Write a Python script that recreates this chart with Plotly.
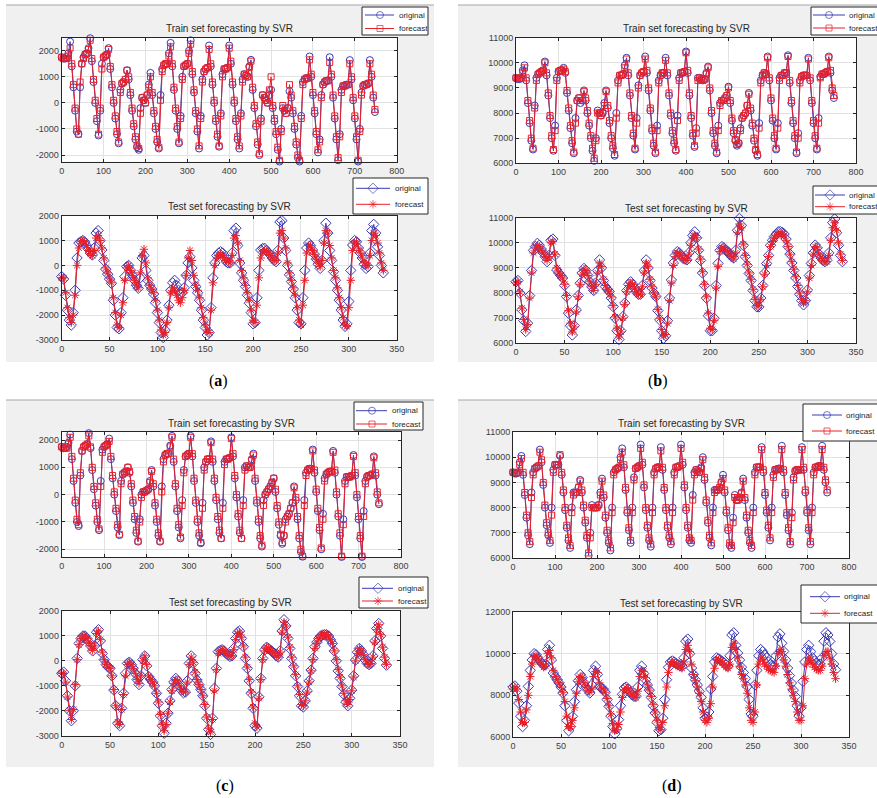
import plotly.graph_objects as go

W, H = 877, 798

# ---------------- data ----------------
# train series sampled every 4 steps (0..748), test series every 2 steps (0..336)
TRAIN_STEP = 4
TEST_STEP = 2

a_train_orig = [1750,1700,1700,1750,1900,2350,1400,600,-300,-1100,
                -1200,600,1500,1750,1850,1900,2100,2480,1600,800,
                0,-700,-1250,-300,1500,1750,1800,1850,2100,1300,
                600,0,-600,-1200,-1550,500,750,800,900,1250,
                900,300,-300,-900,-1400,-1700,-1800,-200,200,100,
                0,300,700,1150,300,-400,-1000,-1500,-1750,300,
                1300,1450,1500,1500,1900,2300,1400,500,-300,-1000,
                -1550,-500,1000,1400,1450,1500,2000,2400,1100,400,
                -400,-1100,-1750,-500,900,1200,1300,1350,2200,1400,
                700,0,-700,-1300,-1680,-400,1100,1300,1300,1350,
                2200,1500,700,0,-700,-1400,-1750,-400,900,1100,
                1050,1000,1400,1650,500,-200,-900,-1600,-2000,-600,
                300,200,100,0,300,500,-200,-700,-1200,-1800,
                -2250,-1000,-200,-300,-400,-200,450,200,-400,-1000,
                -1600,-2100,-2250,-500,800,900,950,950,1780,1000,
                300,-400,-1200,-1900,-1400,300,700,800,850,850,
                1750,1000,200,-600,-1400,-2200,-1200,500,650,650,
                700,700,1640,900,100,-600,-1400,-2250,-1000,400,
                650,700,700,750,1640,1000,200,-350]
a_train_fc = [1750,1700,1700,1700,1800,2100,1500,700,-200,-1000,
              -1200,800,1500,1700,1850,1900,2050,2400,1700,900,
              100,-600,-1200,-200,1300,1750,1800,1850,2050,1400,
              700,100,-500,-1100,-1500,400,750,800,900,1250,
              1000,400,-200,-800,-1300,-1650,-1750,-400,200,100,
              0,300,600,1000,400,-300,-900,-1400,-1700,100,
              1200,1450,1500,1500,1800,2150,1500,600,-200,-900,
              -1500,-600,900,1400,1450,1500,1900,2250,1200,500,
              -300,-1000,-1650,-600,800,1200,1300,1350,2050,1500,
              800,100,-600,-1200,-1650,-500,1000,1300,1300,1350,
              2100,1600,800,100,-600,-1300,-1650,-500,800,1100,
              1050,1000,1350,1600,600,-100,-800,-1500,-1950,-700,
              300,200,100,0,500,1000,-100,-600,-1100,-1700,
              -2200,-1100,-100,-300,-400,-200,700,300,-300,-900,
              -1500,-2000,-2200,-600,700,900,950,950,1650,1100,
              400,-300,-1100,-1800,-1500,200,700,800,850,850,
              1550,1100,300,-500,-1300,-2100,-1300,400,650,650,
              700,700,1500,1000,200,-500,-1300,-2200,-1100,300,
              650,700,700,750,1500,1100,300,-250]
a_test_orig = [-450,-550,-1200,-1800,-2200,-2400,-1900,-1000,300,900,
               950,1000,950,800,650,500,420,700,1300,1400,
               1000,620,200,-150,-350,-550,-720,-1400,-2000,-2500,
               -2550,-1900,-1300,-450,-50,0,-200,-400,-600,-800,
               -920,-500,300,400,-200,-600,-800,-950,-1150,-1500,
               -1900,-2300,-2700,-2900,-2600,-2200,-1600,-1000,-700,-600,
               -800,-1000,-1150,-1100,-900,-400,100,350,-100,-600,
               -850,-1100,-1400,-1800,-2200,-2500,-2800,-2700,-1700,-500,
               100,400,500,550,500,300,150,100,100,500,
               1400,1500,800,100,-300,-600,-850,-1200,-1520,-1900,
               -2350,-2300,-1300,-200,620,680,690,600,500,420,
               300,200,150,600,1750,1800,1100,600,0,-380,
               -650,-950,-1300,-1800,-2300,-2350,-1300,-200,700,900,
               800,620,450,250,50,-120,200,1000,1700,1300,
               600,200,-250,-600,-1000,-1400,-1800,-2200,-2450,-2350,
               -1450,-200,820,1000,950,700,500,300,50,-120,
               -50,500,1400,1650,1300,750,400,0,-300]
a_test_fc = [-500,-500,-1100,-1700,-2100,-2300,-2000,-1200,0,700,
             950,1000,950,800,600,450,400,600,1100,1200,
             1000,700,300,-100,-300,-500,-700,-1300,-1900,-2400,
             -2500,-2000,-1500,-600,-100,0,-200,-400,-600,-800,
             -900,-300,400,650,100,-500,-800,-950,-1100,-1400,
             -1800,-2200,-2600,-2800,-2700,-2300,-1700,-1100,-900,-1000,
             -1200,-1400,-1500,-1300,-1000,-400,300,600,200,-400,
             -800,-1000,-1300,-1700,-2100,-2400,-2600,-2700,-1800,-700,
             0,300,400,450,400,300,200,150,100,400,
             1100,1200,900,200,-200,-500,-800,-1100,-1400,-1800,
             -2200,-2300,-1600,-500,300,550,600,550,500,400,
             300,200,200,500,1300,1400,1100,700,100,-300,
             -600,-900,-1200,-1700,-2200,-2400,-1600,-600,500,800,
             800,600,450,250,100,-50,200,900,1400,1300,
             800,300,-200,-500,-900,-1300,-1700,-2100,-2400,-2450,
             -1700,-600,600,900,950,700,500,300,100,0,
             0,400,1000,1300,1200,900,500,100,-200]

b_train_orig = [9400,9350,9350,9400,9700,9900,9300,8400,7600,6900,
                6550,8300,9400,9550,9600,9650,9700,10050,9500,8700,
                7800,7000,6500,7500,9400,9650,9700,9700,9800,9600,
                8800,8100,7400,6800,6400,7800,8500,8600,8400,8500,
                8900,8500,8000,7500,7000,6500,6100,7000,8100,8000,
                7900,8000,8400,8900,8200,7600,7000,6600,6300,8000,
                9300,9500,9500,9550,9900,10200,9500,8700,7800,7100,
                6550,7800,9100,9500,9600,9650,10250,9600,8900,8100,
                7300,6700,6400,7500,9300,9500,9600,9600,10200,9500,
                8700,7900,7200,6800,6500,7900,9400,9600,9600,9650,
                10450,9600,8700,7800,7100,6650,7400,9400,9400,9350,
                9300,9350,9600,9850,8900,8000,7200,6700,6400,7500,
                8400,8500,8500,8600,8700,9050,8400,7700,7200,6900,
                6700,6800,7400,7800,7900,8000,8300,8800,8100,7500,
                6900,6500,6300,7600,9300,9500,9600,9550,10250,9300,
                8500,7700,7000,6550,7600,9400,9500,9500,9600,9600,
                10300,9200,8400,7600,7000,6400,7200,9300,9450,9500,
                9500,9500,10200,9300,8400,7600,7000,6550,7800,9450,
                9550,9550,9600,9650,10250,9600,8900,8600]
b_train_fc = [9400,9380,9380,9380,9600,9800,9400,8500,7700,7000,
              6600,8200,9300,9550,9600,9650,9700,10000,9600,8800,
              7900,7100,6550,7300,9300,9650,9700,9700,9750,9650,
              8900,8200,7500,6900,6450,7600,8500,8600,8500,8500,
              8850,8600,8100,7600,7100,6600,6200,6900,8000,8000,
              7900,8000,8300,8850,8300,7700,7100,6700,6350,7800,
              9200,9500,9500,9550,9800,10150,9600,8800,7900,7200,
              6600,7600,9000,9500,9600,9650,10150,9700,9000,8200,
              7400,6800,6450,7300,9200,9500,9600,9600,10100,9600,
              8800,8000,7300,6900,6550,7700,9300,9600,9600,9650,
              10400,9700,8800,7900,7200,6700,7200,9300,9400,9350,
              9300,9350,9550,9800,9000,8100,7300,6800,6450,7300,
              8300,8500,8500,8600,8700,9000,8500,7800,7300,6950,
              6750,6800,7300,7800,7900,8000,8300,8750,8200,7600,
              7000,6550,6350,7400,9200,9500,9600,9550,10200,9400,
              8600,7800,7100,6600,7400,9300,9500,9500,9600,9600,
              10250,9300,8500,7700,7100,6450,7000,9200,9450,9500,
              9500,9500,10150,9400,8500,7700,7100,6600,7600,9400,
              9550,9550,9600,9650,10200,9700,9000,8700]
b_test_orig = [8450,8500,8000,7330,6900,6470,6800,7900,8900,9700,
               9850,9980,9900,9750,9600,9450,9250,9500,10100,10150,
               9500,8920,8800,8700,8600,8300,7860,7200,6700,6330,
               6700,7330,7900,8390,8800,8980,8900,8700,8450,8250,
               8100,8400,8900,9320,9000,8500,8260,8150,8060,7800,
               7460,7000,6500,6150,6500,7060,7600,8100,8350,8450,
               8350,8200,8050,7950,7950,8300,8900,9320,9000,8500,
               8200,8000,7860,7300,6930,6500,6200,6300,6900,7800,
               8520,9200,9500,9650,9600,9500,9380,9350,9320,9600,
               10000,10300,10440,10200,9700,9300,8800,8300,7800,7100,
               6500,6500,7000,8300,9180,9700,9850,9800,9700,9650,
               9550,9450,9400,9700,10500,10970,10700,9900,9450,9100,
               8780,8500,8100,7700,7450,7450,7800,8300,8800,9180,
               9500,9900,10100,10250,10350,10440,10450,10420,10350,10150,
               9850,9550,9200,8900,8600,8260,7950,7700,7530,7700,
               8120,8700,9180,9600,9910,9800,9550,9400,9300,9250,
               9300,9600,10200,10800,10950,10400,9900,9500,9250]
b_test_fc = [8400,8450,8050,7400,6950,6550,6750,7800,8800,9600,
             9800,9900,9850,9700,9600,9450,9300,9450,10000,10050,
             9550,9000,8800,8700,8600,8350,7900,7300,6800,6450,
             6650,7250,7850,8350,8750,8950,8900,8700,8450,8250,
             8100,8350,8800,9200,9050,8550,8300,8150,8050,7850,
             7500,7050,6600,6250,6450,7000,7550,8050,8300,8400,
             8350,8200,8050,7950,7950,8250,8800,9200,9050,8550,
             8250,8000,7850,7350,7000,6550,6300,6350,6800,7700,
             8400,9100,9450,9600,9600,9500,9380,9350,9300,9550,
             9900,10200,10300,10200,9750,9350,8850,8350,7850,7200,
             6600,6550,6900,8200,9050,9650,9800,9800,9700,9650,
             9550,9450,9350,9600,10400,10750,10600,9950,9500,9150,
             8800,8550,8150,7750,7500,7500,7750,8250,8750,9100,
             9450,9850,10050,10200,10300,10350,10350,10350,10300,10100,
             9850,9550,9250,8950,8650,8300,8000,7750,7600,7700,
             8050,8600,9100,9550,9850,9800,9550,9400,9300,9250,
             9250,9500,10100,10600,10800,10500,10000,9550,9300]

c_train_orig = [1750,1700,1700,1750,1900,2200,1300,500,-300,-1000,
                -1150,700,1600,1750,1800,1850,2250,1700,900,200,
                -400,-1000,-1300,500,1650,1750,1800,1850,2050,1300,
                600,0,-600,-1200,-1480,500,750,800,850,1000,
                800,300,-300,-900,-1400,-1720,-900,0,100,100,
                150,200,500,900,300,-400,-1000,-1500,-1720,300,
                1300,1450,1500,1500,1800,2150,1200,300,-600,-1200,
                -1600,-200,900,1400,1450,1500,2150,1400,500,-300,
                -1000,-1500,-1780,-300,1000,1200,1300,1300,1950,1200,
                500,-200,-900,-1400,-1600,-300,1200,1300,1300,1350,
                2100,1400,600,-100,-800,-1400,-1600,-200,1000,1050,
                1000,1000,1300,1500,500,-300,-1000,-1600,-1900,-200,
                0,100,200,300,450,600,100,-500,-1100,-1500,
                -1800,-1500,-900,-800,-700,-500,-300,300,-200,-900,
                -1600,-2100,-2270,-200,800,900,950,950,1650,800,
                100,-600,-1300,-2000,-700,600,750,800,850,850,
                1600,800,0,-800,-1500,-2280,-900,500,650,650,
                650,700,1450,700,-100,-900,-1600,-2280,-600,500,
                650,700,700,750,1400,700,0,-350]
c_train_fc = [1750,1700,1700,1700,1850,2100,1400,600,-200,-900,
              -1100,800,1600,1750,1800,1850,2150,1750,1000,300,
              -300,-900,-1250,300,1550,1750,1800,1850,1950,1400,
              700,100,-500,-1100,-1450,400,750,800,850,1000,
              850,400,-200,-800,-1300,-1700,-1000,-100,100,100,
              150,200,450,850,400,-300,-900,-1400,-1700,100,
              1200,1450,1500,1500,1750,2100,1300,400,-500,-1100,
              -1550,-400,800,1400,1450,1500,2100,1500,600,-200,
              -900,-1400,-1750,-500,900,1200,1300,1300,1900,1300,
              600,-100,-800,-1300,-1600,-500,1100,1300,1300,1350,
              2050,1500,700,0,-700,-1300,-1600,-400,900,1050,
              1000,1000,1250,1450,600,-200,-900,-1500,-1850,-400,
              0,100,200,300,450,600,200,-400,-1000,-1450,
              -1750,-1500,-1000,-800,-700,-500,-300,250,-100,-800,
              -1500,-2000,-2250,-400,700,900,950,950,1600,900,
              200,-500,-1200,-1950,-900,500,750,800,850,850,
              1550,900,100,-700,-1400,-2250,-1100,400,650,650,
              650,700,1400,800,0,-800,-1500,-2250,-800,400,
              650,700,700,750,1350,800,100,-300]
c_test_orig = [-500,-450,-800,-1400,-2000,-2400,-2000,-1000,100,700,
               900,1000,1000,900,770,600,400,600,1150,1250,
               800,300,50,-150,-250,-300,-600,-1170,-1800,-2500,
               -2600,-1900,-1300,-500,-100,-50,-150,-300,-500,-750,
               -950,-600,50,200,-200,-630,-750,-850,-1000,-1300,
               -1700,-2200,-2600,-2900,-2500,-2100,-1600,-1150,-850,-700,
               -800,-1000,-1170,-1280,-1250,-800,-100,200,-100,-500,
               -770,-950,-1150,-1400,-1800,-2300,-2750,-2950,-2300,-1100,
               -300,370,420,450,400,300,235,180,200,500,
               900,1150,1200,900,570,100,-300,-800,-1300,-1900,
               -2600,-2700,-1440,-700,100,440,550,500,420,370,
               300,200,150,400,1200,1650,1400,900,500,100,
               -230,-600,-1030,-1400,-1800,-1850,-1600,-1200,-800,-370,
               100,570,750,900,1000,1040,1050,1050,1000,850,
               700,400,0,-400,-700,-1030,-1350,-1650,-1800,-1500,
               -1170,-600,35,350,500,400,250,35,-100,-150,
               -100,200,800,1300,1500,1000,500,100,-170]
c_test_fc = [-500,-500,-850,-1450,-2000,-2350,-1950,-950,50,650,
             900,1000,1000,900,750,600,420,600,1100,1200,
             850,350,50,-150,-250,-300,-600,-1150,-1800,-2450,
             -2550,-1950,-1350,-600,-150,-50,-150,-300,-500,-750,
             -900,-600,0,200,-150,-600,-750,-850,-1000,-1300,
             -1650,-2150,-2550,-2800,-2550,-2100,-1650,-1200,-900,-750,
             -800,-1000,-1150,-1250,-1250,-850,-150,150,-50,-450,
             -750,-950,-1150,-1400,-1750,-2250,-2700,-2850,-2350,-1200,
             -350,300,400,450,400,300,250,200,200,450,
             850,1100,1150,950,600,150,-250,-750,-1250,-1850,
             -2500,-2650,-1500,-750,50,400,550,500,420,370,
             300,200,150,350,1150,1550,1400,950,550,150,
             -200,-550,-1000,-1350,-1750,-1800,-1600,-1250,-850,-400,
             50,500,700,900,1000,1050,1050,1050,1000,850,
             700,400,50,-350,-650,-1000,-1300,-1600,-1750,-1550,
             -1200,-650,0,300,500,400,250,50,-100,-150,
             -100,150,750,1250,1450,1050,550,150,-150]

d_train_orig = [9400,9350,9350,9400,9800,10050,9300,8500,7600,6900,
                6550,8600,9400,9550,9600,9650,10300,9800,8900,8000,
                7300,6900,6600,8000,9500,9700,9700,9700,10050,9300,
                8600,7900,7200,6700,6400,8000,8600,8600,8600,8800,
                9100,8600,8000,7400,6800,6100,7000,8100,8000,8000,
                8000,8100,8600,9150,8400,7600,7000,6600,6300,8000,
                9400,9500,9550,9600,10000,10350,9600,8700,7800,7100,
                6600,8000,9200,9550,9600,9650,10500,9700,8800,7900,
                7200,6700,6450,8000,9400,9550,9600,9600,10400,9500,
                8700,7900,7200,6800,6550,8000,9400,9600,9600,9650,
                10500,9700,8800,7900,7200,6700,6600,8500,9400,9500,
                9450,9400,9600,10000,9100,8200,7400,6800,6500,8000,
                8700,8700,8700,8800,9000,9300,8600,7800,7100,6500,
                6400,7600,8500,8300,8300,8400,8600,9150,8300,7600,
                7000,6600,6400,8000,9400,9600,9600,9600,10400,9400,
                8500,7800,7200,6700,8000,9300,9500,9500,9550,9550,
                10450,9400,8500,7700,7100,6550,7800,9200,9450,9500,
                9500,9500,10400,9500,8600,7800,7100,6550,8000,9400,
                9600,9600,9650,9650,10450,9500,9000,8600]
d_train_fc = [9400,9380,9380,9400,9700,9950,9400,8600,7700,7000,
              6650,8400,9300,9550,9600,9650,10200,9900,9000,8100,
              7400,7000,6700,7700,9400,9700,9700,9700,10100,9400,
              8700,8000,7300,6800,6500,7800,8500,8600,8600,8800,
              9050,8700,8100,7500,6900,6200,6800,8000,8000,8000,
              8000,8100,8500,9050,8500,7700,7100,6700,6400,7800,
              9300,9500,9550,9600,9900,10200,9700,8800,7900,7200,
              6700,7800,9100,9550,9600,9650,10350,9800,8900,8000,
              7300,6800,6550,7800,9300,9550,9600,9600,10250,9600,
              8800,8000,7300,6900,6650,7800,9300,9600,9600,9650,
              10350,9800,8900,8000,7300,6800,6700,8300,9300,9500,
              9450,9400,9550,9900,9200,8300,7500,6900,6600,7800,
              8600,8700,8700,8800,9000,9150,8700,7900,7200,6600,
              6500,7400,8400,8300,8300,8400,8550,9050,8400,7700,
              7100,6700,6500,7800,9300,9600,9600,9600,10300,9500,
              8600,7900,7300,6800,7800,9200,9500,9500,9550,9550,
              10300,9500,8600,7800,7200,6650,7600,9100,9450,9500,
              9500,9500,10300,9600,8700,7900,7200,6650,7800,9300,
              9600,9600,9650,9650,10300,9600,9100,8700]
d_test_orig = [8400,8450,8200,7630,7000,6500,6800,7500,8430,9200,
               9700,10000,9950,9800,9650,9550,9450,9500,10200,10400,
               9700,9070,8900,8750,8600,8400,8110,7500,6800,6300,
               6500,6990,7700,8270,8700,9000,8850,8600,8400,8250,
               8110,8500,9200,9400,9000,8430,8350,8300,8150,7800,
               7470,7000,6500,6150,6400,6830,7500,8050,8350,8400,
               8300,8150,8030,7950,7950,8400,9200,9400,9050,8750,
               8500,8250,7900,7500,7150,6700,6300,6350,6900,7800,
               8750,9350,9600,9650,9600,9520,9470,9420,9400,9800,
               10600,10700,10000,9310,9000,8750,8500,8200,7900,7400,
               6900,6950,7200,8300,8910,9600,9800,9750,9700,9630,
               9550,9450,9400,9900,10900,11000,10400,10030,9700,9350,
               9100,8800,8430,7800,7100,7000,8500,9200,9900,10200,
               10100,9950,9800,9600,9470,9430,9420,9900,10800,10950,
               10500,10110,9700,9310,8950,8590,8250,7950,7500,7000,
               7400,8670,9600,10200,10400,10100,9800,9650,9550,9470,
               9500,9800,10600,11000,10900,10590,10000,9500,9230]
d_test_fc = [8300,8400,8300,7800,7200,6700,6700,7300,8000,8900,
             9500,9850,9900,9750,9600,9500,9350,9400,10000,10150,
             9800,9200,8900,8750,8600,8400,8150,7700,7000,6500,
             6500,6800,7400,8100,8650,8900,8850,8600,8400,8250,
             8150,8300,8900,9150,9100,8600,8350,8300,8150,7850,
             7500,7100,6650,6300,6350,6600,7200,7900,8250,8350,
             8300,8150,8050,7950,7900,8200,8900,9200,9150,8850,
             8500,8250,7950,7550,7200,6800,6450,6350,6700,7500,
             8400,9100,9500,9600,9550,9450,9400,9350,9300,9600,
             10200,10400,10100,9500,9000,8700,8400,8100,7700,7200,
             6800,6700,6900,7600,8400,9300,9700,9700,9650,9550,
             9450,9350,9300,9500,10300,10500,10200,9800,9400,9000,
             8800,8500,8100,7400,6800,6700,7200,8500,9500,9800,
             9700,9500,9400,9250,9200,9150,9100,9400,10000,10200,
             10100,9700,9400,9000,8600,8300,8000,7700,7200,6800,
             6800,7500,8800,9500,9800,9700,9500,9350,9250,9200,
             9200,9400,9900,10100,10100,9800,9500,9100,8800]

train_xticks = [0, 100, 200, 300, 400, 500, 600, 700, 800]
test_xticks = [0, 50, 100, 150, 200, 250, 300, 350]
resid_train_yticks = [-2000, -1000, 0, 1000, 2000]
resid_test_yticks = [-3000, -2000, -1000, 0, 1000, 2000]
load_yticks = [6000, 7000, 8000, 9000, 10000, 11000]
load_test_d_yticks = [6000, 8000, 10000, 12000]
train_title = "Train set forecasting by SVR"
test_title = "Test set forecasting by SVR"
series_names = ["original", "forecast"]
captions = ["a", "b", "c", "d"]

# ---------------- styling / layout ----------------
BLUE = "#3a3ab4"
RED = "#e8202a"
FONT = "Liberation Sans, Arial, sans-serif"
SIZES = {"circle-open": 7, "square-open": 6, "diamond-open": 8, "asterisk-open": 7}

# (orig, fc, step, px range, py range, xrange, yrange, xticks, yticks, symbols, title, legend geometry)
# legend geometry: box x0,x1,y0,y1, line x0,x1, marker x, text x, row1 y, row2 y
panels = [
    (a_train_orig, a_train_fc, TRAIN_STEP, (61.7, 396.7), (37.7, 161.7), [0, 800], [-2256, 2500],
     train_xticks, resid_train_yticks, ("circle-open", "square-open"), train_title,
     (362, 428, 7, 35, 365, 394, 380, 397, 15, 28.5)),
    (a_test_orig, a_test_fc, TEST_STEP, (61.7, 396.7), (215.7, 340), [0, 350], [-3000, 2000],
     test_xticks, resid_test_yticks, ("diamond-open", "asterisk-open"), test_title,
     (353, 428, 178, 214, 356, 390, 373, 393, 188.3, 204.3)),
    (b_train_orig, b_train_fc, TRAIN_STEP, (516, 856), (37.7, 163.3), [0, 800], [6000, 11000],
     train_xticks, load_yticks, ("circle-open", "square-open"), train_title,
     (811, 882, 7, 35, 813, 845, 829, 847, 15, 28)),
    (b_test_orig, b_test_fc, TEST_STEP, (516, 856), (217.7, 343.3), [0, 350], [6000, 11000],
     test_xticks, load_yticks, ("diamond-open", "asterisk-open"), test_title,
     (813, 882, 186, 214, 815, 845, 830, 847, 195, 206.7)),
    (c_train_orig, c_train_fc, TRAIN_STEP, (61.7, 401), (432, 557), [0, 800], [-2282, 2293],
     train_xticks, resid_train_yticks, ("circle-open", "square-open"), train_title,
     (354, 423, 402, 430, 356, 387, 372, 390, 410.7, 424)),
    (c_test_orig, c_test_fc, TEST_STEP, (61.7, 400), (611, 735.7), [0, 350], [-3000, 2000],
     test_xticks, resid_test_yticks, ("diamond-open", "asterisk-open"), test_title,
     (359, 428, 577, 608, 362, 393, 378, 396, 588.3, 601)),
    (d_train_orig, d_train_fc, TRAIN_STEP, (513, 849), (432, 558), [0, 800], [6000, 11000],
     train_xticks, load_yticks, ("circle-open", "square-open"), train_title,
     (803, 882, 404, 441, 812, 842, 827, 844, 415, 431)),
    (d_test_orig, d_test_fc, TEST_STEP, (513, 849), (612, 737), [0, 350], [6000, 12000],
     test_xticks, load_test_d_yticks, ("diamond-open", "asterisk-open"), test_title,
     (801, 882, 585, 623, 810, 840, 825, 842, 596.7, 613.3)),
]

fig = go.Figure()
layout = dict(width=W, height=H,
              margin=dict(l=0, r=0, t=0, b=0, autoexpand=False),
              paper_bgcolor="white", plot_bgcolor="rgba(0,0,0,0)",
              showlegend=False, hovermode=False,
              shapes=[], annotations=[])

# gray figure backgrounds with a thin top border
for (x0, x1, y0, y1) in [(6, 434, 5, 362), (458, 877, 5, 362), (6, 434, 400, 767), (458, 877, 400, 767)]:
    layout["shapes"].append(dict(type="rect", xref="paper", yref="paper",
                                 x0=x0 / W, x1=x1 / W, y0=1 - y1 / H, y1=1 - y0 / H,
                                 fillcolor="#f0f0f0", line=dict(width=0), layer="below"))
    layout["shapes"].append(dict(type="line", xref="paper", yref="paper",
                                 x0=x0 / W, x1=x1 / W, y0=1 - y0 / H, y1=1 - y0 / H,
                                 line=dict(color="#a6a6a6", width=1), layer="below"))

legend_traces = []
for i, (orig, fc, step, pxr, pyr, xr, yr, xt, yt, syms, title, lg) in enumerate(panels, start=1):
    sfx = "" if i == 1 else str(i)
    xa, ya = "x" + sfx, "y" + sfx
    series = [(orig, BLUE, syms[0], series_names[0]), (fc, RED, syms[1], series_names[1])]
    for vals, color, sym, name in series:
        xs = [k * step for k in range(len(vals))]
        fig.add_trace(go.Scatter(
            x=xs, y=vals, mode="lines+markers", name=name,
            line=dict(color=color, width=1),
            marker=dict(symbol=sym, size=SIZES[sym], color=color, line=dict(color=color, width=1)),
            xaxis=xa, yaxis=ya, cliponaxis=False))

    # white plotting area
    layout["shapes"].append(dict(type="rect", xref="paper", yref="paper",
                                 x0=pxr[0] / W, x1=pxr[1] / W, y0=1 - pyr[1] / H, y1=1 - pyr[0] / H,
                                 fillcolor="white", line=dict(width=0), layer="below"))
    axis_common = dict(showgrid=True, gridcolor="#e2e2e2", gridwidth=1, zeroline=False,
                       showline=True, linecolor="#262626", linewidth=1, mirror="ticks",
                       ticks="inside", ticklen=3, tickcolor="#262626", fixedrange=True,
                       tickfont=dict(family=FONT, size=9, color="#404040"))
    layout["xaxis" + sfx] = dict(axis_common, domain=[pxr[0] / W, pxr[1] / W], range=xr,
                                 tickvals=xt, ticktext=[str(v) for v in xt], anchor=ya)
    layout["yaxis" + sfx] = dict(axis_common, domain=[1 - pyr[1] / H, 1 - pyr[0] / H], range=yr,
                                 tickvals=yt, ticktext=[str(v) for v in yt], anchor=xa)
    layout["annotations"].append(dict(text=title, xref="paper", yref="paper",
                                      x=(pxr[0] + pxr[1]) / 2 / W, y=1 - (pyr[0] - 9) / H,
                                      xanchor="center", yanchor="middle", showarrow=False,
                                      font=dict(family=FONT, size=10, color="#262626")))

    # legend box (drawn on a full-figure overlay axis so it sits above the data)
    bx0, bx1, by0, by1, lx0, lx1, mx, tx, r1, r2 = lg
    legend_traces.append(go.Scatter(
        x=[bx0, bx1, bx1, bx0, bx0], y=[by0, by0, by1, by1, by0], mode="lines",
        fill="toself", fillcolor="white", line=dict(color="#262626", width=1),
        xaxis="x9", yaxis="y9", cliponaxis=False))
    for (vals, color, sym, name), ry in zip(series, (r1, r2)):
        legend_traces.append(go.Scatter(
            x=[lx0, mx, lx1], y=[ry, ry, ry], mode="lines+markers",
            line=dict(color=color, width=1),
            marker=dict(symbol=sym, size=[0, SIZES[sym], 0], color=color, line=dict(color=color, width=1)),
            xaxis="x9", yaxis="y9", cliponaxis=False))
        layout["annotations"].append(dict(text=name, xref="paper", yref="paper",
                                          x=tx / W, y=1 - ry / H, xanchor="left", yanchor="middle",
                                          showarrow=False,
                                          font=dict(family=FONT, size=8, color="#262626")))

for tr in legend_traces:
    fig.add_trace(tr)

layout["xaxis9"] = dict(domain=[0, 1], range=[0, W], visible=False, fixedrange=True, anchor="y9")
layout["yaxis9"] = dict(domain=[0, 1], range=[H, 0], visible=False, fixedrange=True, anchor="x9")

for letter, (cx, cy) in zip(captions, [(218, 381), (658, 381), (225, 786), (672, 786)]):
    layout["annotations"].append(dict(text="(<b>%s</b>)" % letter, xref="paper", yref="paper",
                                      x=cx / W, y=1 - cy / H, xanchor="center", yanchor="middle",
                                      showarrow=False,
                                      font=dict(family="Liberation Serif, serif", size=16, color="black")))

fig.update_layout(**layout)
fig.write_html("out.html")
